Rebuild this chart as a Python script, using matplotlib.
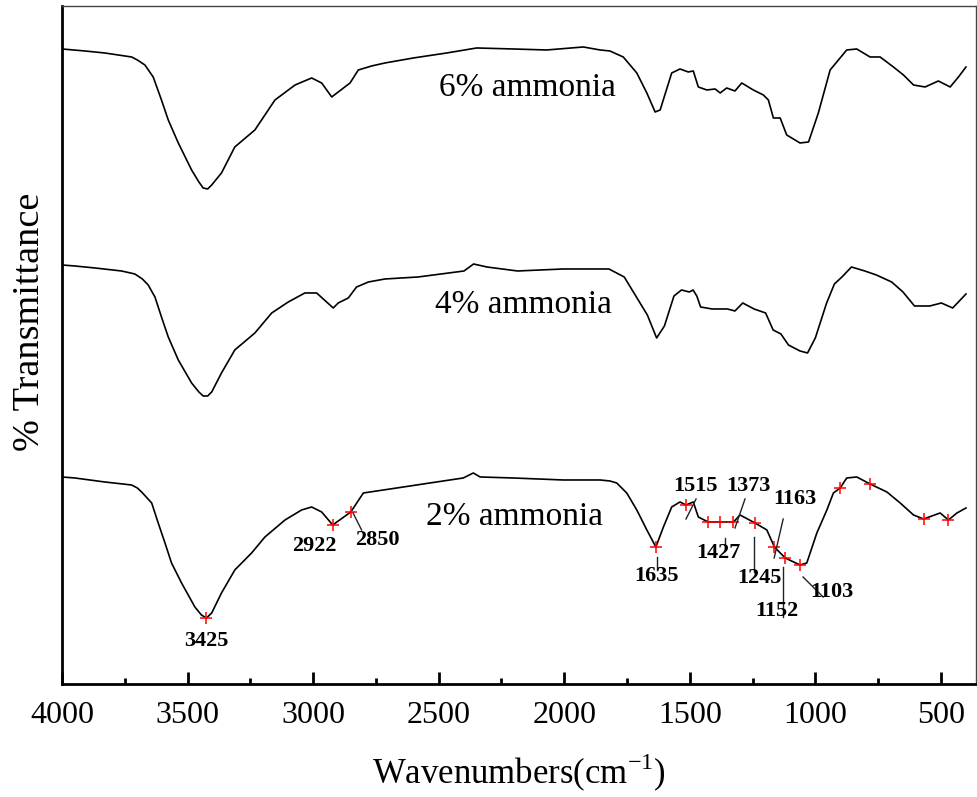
import matplotlib
matplotlib.use("Agg")
import matplotlib.pyplot as plt
from matplotlib.ticker import MultipleLocator

plt.rcParams['font.family'] = ['Liberation Serif', 'DejaVu Serif']
plt.rcParams['mathtext.fontset'] = 'custom'
plt.rcParams['mathtext.rm'] = 'Liberation Serif'

# spectra: (wavenumber, transmittance a.u.)
spec_6 = [(4000, 635), (3909, 633), (3830, 631), (3723, 627), (3700, 624), (3670, 619), (3637, 607),
          (3604, 584), (3577, 564), (3537, 541), (3484, 514), (3455, 502), (3438, 496), (3420, 495),
          (3404, 499), (3365, 511), (3312, 537), (3232, 554), (3152, 584), (3072, 599), (3006, 606),
          (2966, 601), (2926, 587), (2900, 592), (2853, 601), (2820, 614), (2767, 618),
          (2714, 621), (2601, 626), (2468, 631), (2349, 636), (2203, 635), (2070, 634),
          (1924, 637), (1857, 634), (1818, 633), (1765, 627), (1711, 611), (1671, 591),
          (1638, 572), (1618, 574), (1572, 611), (1539, 615), (1506, 612), (1486, 613),
          (1466, 597), (1432, 594), (1399, 595), (1379, 591), (1353, 596), (1320, 593),
          (1293, 601), (1247, 594), (1207, 589), (1187, 584), (1167, 566), (1140, 566),
          (1114, 549), (1061, 541), (1027, 542), (988, 571), (941, 614), (908, 624),
          (875, 634), (835, 635), (782, 627), (742, 627), (689, 617), (649, 609),
          (609, 599), (563, 597), (510, 603), (463, 597), (430, 607), (400, 617)]

spec_4 = [(4000, 419), (3949, 418), (3869, 416), (3763, 413), (3710, 410), (3680, 405), (3657, 399),
          (3630, 387), (3604, 367), (3577, 347), (3537, 324), (3484, 301), (3455, 292), (3438, 288),
          (3420, 288), (3404, 292), (3365, 311), (3312, 334), (3232, 351), (3165, 371), (3099, 382),
          (3033, 391), (2986, 391), (2920, 376), (2900, 381), (2860, 386), (2827, 397),
          (2780, 402), (2714, 405), (2582, 407), (2399, 413), (2361, 420), (2308, 417),
          (2186, 413), (2004, 415), (1822, 415), (1761, 407), (1715, 388), (1669, 369),
          (1632, 346), (1601, 358), (1563, 388), (1533, 394), (1502, 392), (1487, 394),
          (1472, 388), (1457, 377), (1411, 375), (1350, 375), (1320, 373), (1289, 381),
          (1244, 375), (1198, 371), (1168, 354), (1137, 350), (1107, 339), (1061, 333),
          (1031, 331), (1000, 346), (955, 381), (924, 400), (894, 407), (856, 417),
          (803, 413), (757, 409), (696, 402), (651, 392), (605, 378), (544, 378),
          (498, 381), (453, 376), (400, 390)]

spec_2 = [(4000, 207), (3949, 206), (3830, 202), (3723, 199), (3700, 196), (3683, 192), (3643, 181),
          (3617, 161), (3590, 141), (3564, 121), (3524, 101), (3471, 77), (3445, 69), (3425, 66),
          (3404, 71), (3365, 91), (3312, 114), (3245, 131), (3192, 147), (3112, 164),
          (3046, 174), (3006, 177), (2966, 172), (2922, 159), (2850, 172), (2800, 191),
          (2667, 196), (2535, 201), (2402, 206), (2362, 211), (2335, 207), (2203, 206),
          (2004, 204), (1857, 204), (1818, 203), (1791, 201), (1751, 191), (1711, 174),
          (1671, 154), (1635, 137), (1605, 157), (1572, 177), (1539, 182), (1515, 179),
          (1486, 182), (1466, 167), (1427, 162), (1379, 162), (1326, 162), (1300, 169),
          (1240, 161), (1193, 154), (1163, 137), (1120, 126), (1061, 119), (1034, 121),
          (994, 151), (954, 174), (928, 191), (901, 196), (875, 206), (835, 207),
          (782, 200), (715, 192), (662, 181), (609, 169), (569, 165), (503, 171),
          (470, 164), (436, 171), (400, 176)]

# red crosses on the 2% spectrum
peak_wn = [3425, 2922, 2850, 1635, 1515, 1427, 1379, 1326, 1240, 1163, 1120, 1061, 901, 782, 569, 470]
peak_t = [66, 159, 172, 137, 179, 162, 162, 162, 161, 137, 126, 119, 196, 200, 165, 164]

peak_text = ['3425', '2922', '2850', '1635', '1515', '1427', '1373', '1245', '1163', '1152', '1103']
text_pos = [(3427, 43), (2997, 138), (2744, 144), (1632, 108), (1476, 198), (1387, 131),
            (1266, 198), (1224, 106), (1080, 185), (1153, 73), (934, 92)]
leaders = {'2850': ((2841, 171), (2807, 154)),
           '1635': ((1632, 127), (1632, 114)),
           '1515': ((1515, 165), (1475, 185)),
           '1427': ((1359, 146), (1359, 134)),
           '1373': ((1320, 156), (1280, 185)),
           '1245': ((1244, 147), (1244, 112)),
           '1163': ((1164, 126), (1128, 165)),
           '1152': ((1128, 117), (1128, 67)),
           '1103': ((1049, 107), (969, 87))}

names = ['6% ammonia', '4% ammonia', '2% ammonia']
name_pos = [(2148, 596), (2164, 379), (2198, 167)]

fig = plt.figure(figsize=(9.77, 7.97), dpi=100)
ax = fig.add_axes([0.0635, 0.1418, 0.9355, 0.8507])

for spec in (spec_6, spec_4, spec_2):
    w = [p[0] for p in spec]
    t = [p[1] for p in spec]
    ax.plot(w, t, color='black', lw=1.2)

ax.plot(peak_wn, peak_t, '+', color='red', ms=8, mew=1.1)

for lab, (wx, wy) in zip(peak_text, text_pos):
    ax.text(wx, wy, lab, ha='center', va='center', fontsize=16, fontweight='bold')
for lab, (p1, p2) in leaders.items():
    ax.plot([p1[0], p2[0]], [p1[1], p2[1]], color='#222222', lw=1)

for lab, (wx, wy) in zip(names, name_pos):
    ax.text(wx, wy, lab, ha='center', va='center', fontsize=24)

ax.set_xlim(4000, 360)
ax.set_ylim(0, 678)
ax.set_yticks([])
ax.xaxis.set_major_locator(MultipleLocator(500))
ax.xaxis.set_minor_locator(MultipleLocator(250))
ax.tick_params(axis='x', which='major', direction='in', length=9, width=2, labelsize=23, pad=12)
ax.tick_params(axis='x', which='minor', direction='in', length=4, width=2)

for s in ['left', 'bottom']:
    ax.spines[s].set_linewidth(2)
for s in ['top', 'right']:
    ax.spines[s].set_linewidth(1)
    ax.spines[s].set_color('#444444')

ax.set_xlabel(r'Wavenumbers(cm$^{\mathrm{-1}}$)', fontsize=25, va='center')
ax.xaxis.set_label_coords(0.5, -0.131)
ax.set_ylabel('% Transmittance', fontsize=27.5, va='center')
ax.yaxis.set_label_coords(-0.035, 0.534)

fig.savefig('out.png', dpi=100)
